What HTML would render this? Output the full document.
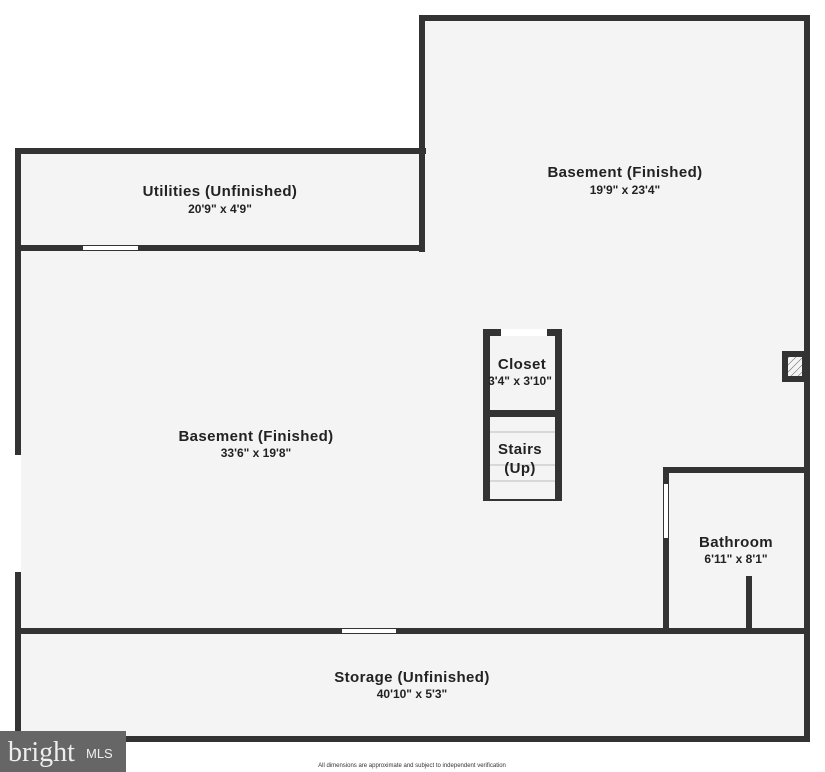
<!DOCTYPE html>
<html><head><style>
body{margin:0;background:#fff;}
svg{display:block;font-family:"Liberation Sans",sans-serif;}
.t{font-weight:bold;font-size:15px;fill:#222;text-anchor:middle;letter-spacing:0.4px;}
.d{font-weight:bold;font-size:12px;fill:#222;text-anchor:middle;}
</style></head><body>
<svg width="825" height="772" viewBox="0 0 825 772">
<defs><pattern id="h" width="5" height="5" patternUnits="userSpaceOnUse" patternTransform="rotate(45)"><rect width="5" height="5" fill="#f4f4f4"/><line x1="0" y1="0" x2="0" y2="5" stroke="#666" stroke-width="1"/></pattern></defs>
<polygon points="18,151 422,151 422,18 807,18 807,739 18,739" fill="#f4f4f4"/>
<g fill="#333">
<rect x="15" y="148" width="411" height="6"/>
<rect x="419" y="15" width="6" height="237"/>
<rect x="419" y="15" width="391" height="6"/>
<rect x="804" y="15" width="6" height="727"/>
<rect x="15" y="736" width="795" height="6"/>
<rect x="15" y="148" width="6" height="594"/>
<rect x="15" y="245" width="410" height="6"/>
<rect x="15" y="628" width="795" height="6"/>
<rect x="664" y="467" width="146" height="6"/>
<rect x="663" y="467" width="6" height="167"/>
<rect x="746" y="576" width="6" height="56"/>
<rect x="782" y="351" width="24" height="31"/>
<rect x="483" y="329" width="79" height="172"/>
</g>
<rect x="788" y="357" width="14" height="19" fill="url(#h)"/>
<rect x="490" y="336" width="65" height="74" fill="#f4f4f4"/>
<rect x="490" y="417" width="65" height="82" fill="#f4f4f4"/>
<g stroke="#bbb" stroke-width="1"><line x1="490" y1="432" x2="555" y2="432"/><line x1="490" y1="465" x2="555" y2="465"/><line x1="490" y1="481" x2="555" y2="481"/></g>
<g fill="#fff">
<rect x="501" y="329" width="46" height="7"/>
<rect x="83" y="246" width="55" height="4"/>
<rect x="342" y="629" width="54" height="4"/>
<rect x="15" y="455" width="6" height="117"/>
<rect x="664" y="484" width="4" height="54"/>
</g>
<text class="t" x="220" y="196">Utilities (Unfinished)</text><text class="d" x="220" y="213">20'9" x 4'9"</text>
<text class="t" x="625" y="177">Basement (Finished)</text><text class="d" x="625" y="194">19'9" x 23'4"</text>
<text class="t" x="256" y="441">Basement (Finished)</text><text class="d" x="256" y="457">33'6" x 19'8"</text>
<text class="t" x="522" y="369">Closet</text><text class="d" x="520" y="385">3'4" x 3'10"</text>
<text class="t" x="520" y="454">Stairs</text><text class="t" x="520" y="473">(Up)</text>
<text class="t" x="736" y="547">Bathroom</text><text class="d" x="736" y="563">6'11" x 8'1"</text>
<text class="t" x="412" y="682">Storage (Unfinished)</text><text class="d" x="412" y="698">40'10" x 5'3"</text>
<rect x="0" y="731" width="126" height="41" fill="#666"/>
<text x="8" y="761" font-family="Liberation Serif,serif" font-size="28" fill="#eee">bright</text>
<text x="86" y="758" font-size="13" fill="#eee">MLS</text>
<text x="412" y="767" font-size="6" fill="#333" text-anchor="middle">All dimensions are approximate and subject to independent verification</text>
</svg>
</body></html>
